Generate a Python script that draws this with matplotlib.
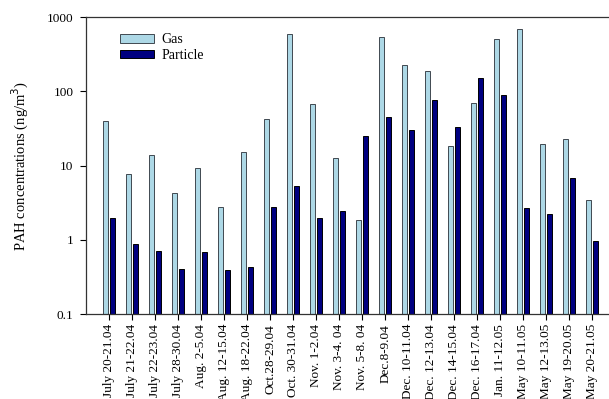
import matplotlib
matplotlib.use("Agg")
import matplotlib.pyplot as plt
import numpy as np
from matplotlib.ticker import FixedLocator, NullLocator

categories = ["July 20-21.04", "July 21-22.04", "July 22-23.04", "July 28-30.04",
              "Aug. 2-5.04", "Aug. 12-15.04", "Aug. 18-22.04", "Oct.28-29.04",
              "Oct. 30-31.04", "Nov. 1-2.04", "Nov. 3-4. 04", "Nov. 5-8. 04",
              "Dec.8-9.04", "Dec. 10-11.04", "Dec. 12-13.04", "Dec. 14-15.04",
              "Dec. 16-17.04", "Jan. 11-12.05", "May 10-11.05", "May 12-13.05",
              "May 19-20.05", "May 20-21.05"]
gas = [39.4, 7.8, 13.7, 4.3, 9.3, 2.8, 15.1, 42.9, 594, 67.6, 12.7,
       1.85, 534, 227, 186, 18.1, 69.8, 508, 679, 19.3, 23.1, 3.4]
particle = [1.97, 0.88, 0.72, 0.41, 0.68, 0.40, 0.43, 2.82, 5.36, 1.97, 2.44,
            24.8, 45.6, 30.2, 76.6, 32.7, 151, 89.4, 2.71, 2.23, 6.87, 0.98]
yticks = [0.1, 1, 10, 100, 1000]
ytick_labels = ["0.1", "1", "10", "100", "1000"]

plt.rcParams["font.family"] = ["Liberation Serif", "DejaVu Serif"]

W, H = 609, 399
left_px, top_px, bottom_px = 86, 17, 314.3
fig = plt.figure(figsize=(W / 100, H / 100), dpi=100)
ax = fig.add_axes([left_px / W, 1 - bottom_px / H, 1 - left_px / W + 0.01,
                   (bottom_px - top_px) / H])

x = np.arange(len(categories))
w = 0.22
ax.bar(x - 0.145, gas, width=w, color="#add8e6", edgecolor="#404850",
       linewidth=0.7, label="Gas")
ax.bar(x + 0.155, particle, width=w, color="#000080", edgecolor="#000000",
       linewidth=0.7, label="Particle")

ax.set_yscale("log")
ax.set_ylim(0.1, 1000)
ax.set_xlim(-1.01, 22.0)
ax.yaxis.set_major_locator(FixedLocator(yticks))
ax.yaxis.set_minor_locator(NullLocator())
ax.set_yticklabels(ytick_labels, fontsize=9.5)
ax.set_xticks(x)
ax.set_xticklabels(categories, rotation=90, fontsize=9.5)
ax.tick_params(axis="y", direction="out", length=4, width=0.8, pad=5)
ax.tick_params(axis="x", direction="out", length=4, width=0.8, pad=3)
ax.set_ylabel("PAH concentrations (ng/m$^3$)", fontsize=10.5)
ax.yaxis.set_label_coords(-0.104, 0.5)

for side in ["top", "left", "bottom"]:
    ax.spines[side].set_linewidth(0.9)
    ax.spines[side].set_color("#333333")
ax.spines["right"].set_visible(False)

ax.legend(loc="upper left", bbox_to_anchor=(0.064, 0.946), frameon=False,
          fontsize=10, borderaxespad=0, borderpad=0,
          handlelength=2.45, handleheight=0.6, labelspacing=0.2,
          handletextpad=0.55)

fig.savefig("out.png", dpi=100)
